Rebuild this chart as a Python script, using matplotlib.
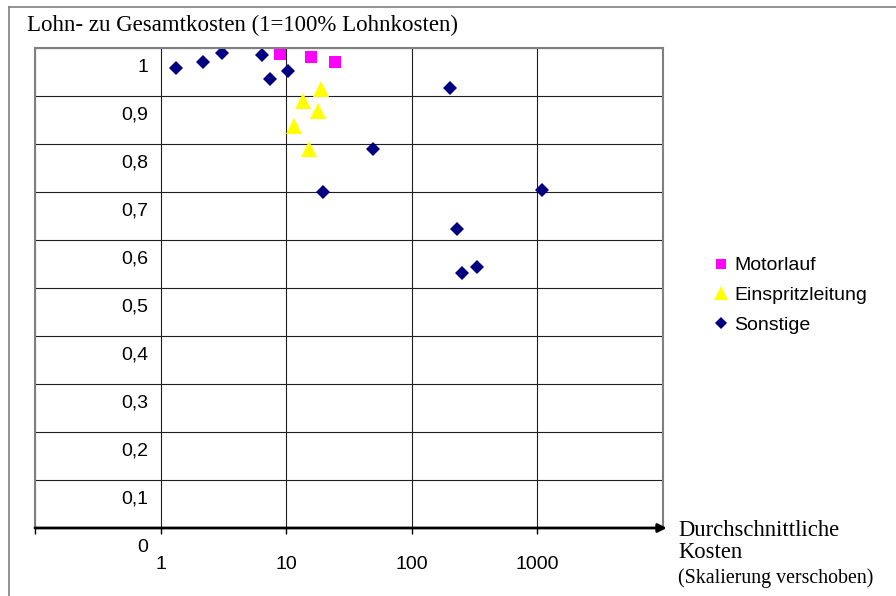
import matplotlib.pyplot as plt
from matplotlib.lines import Line2D

# Data (average costs, labour share of total costs)
motor_x = [8.97, 15.7, 24.3]
motor_y = [0.988, 0.981, 0.970]

einspritz_x = [19.0, 13.5, 17.8, 11.5, 15.3]
einspritz_y = [0.914, 0.890, 0.868, 0.838, 0.789]

sonst_x = [1.32, 2.16, 3.06, 6.37, 7.38, 10.4, 200, 48.7, 19.5, 1097, 227, 249, 328]
sonst_y = [0.958, 0.971, 0.990, 0.985, 0.935, 0.952, 0.917, 0.790, 0.700, 0.704, 0.623, 0.531, 0.544]

y_ticks = [0, 0.1, 0.2, 0.3, 0.4, 0.5, 0.6, 0.7, 0.8, 0.9, 1.0]
y_labels = ["0", "0,1", "0,2", "0,3", "0,4", "0,5", "0,6", "0,7", "0,8", "0,9", "1"]
x_ticks = [1, 10, 100, 1000]
x_labels = ["1", "10", "100", "1000"]

serif = "Liberation Serif"
sans = "Liberation Sans"
gray = "#808080"

fig = plt.figure(figsize=(8.96, 5.96), dpi=100)
ax = fig.add_axes([35/896, 1 - 528/596, 628/896, 480/596])

ax.set_xscale("log")
ax.set_xlim(0.1, 10000)
ax.set_ylim(0, 1)

ax.plot(motor_x, motor_y, "s", color="#FF00FF", ms=8, mew=0, label="Motorlauf")
ax.plot(einspritz_x, einspritz_y, "^", color="#FFFF00", ms=11, mew=0, label="Einspritzleitung")
ax.plot(sonst_x, sonst_y, "D", color="#000080", ms=7.2, mew=0, label="Sonstige")

# grid
ax.set_yticks(y_ticks)
ax.set_yticklabels([])
ax.tick_params(axis="y", length=0)
ax.set_xticks([0.1] + x_ticks)
ax.set_xticklabels([""] + x_labels, fontfamily=sans, fontsize=14)
ax.minorticks_off()
ax.tick_params(axis="x", length=4, width=1, direction="out", pad=16, color="black")
ax.grid(True, color="#202020", lw=0.8)
ax.set_axisbelow(True)

for s in ["left", "top", "right"]:
    ax.spines[s].set_color(gray)
    ax.spines[s].set_linewidth(1.5)
ax.spines["bottom"].set_visible(False)

# y labels shifted down ("Skalierung verschoben")
for v, lab in zip(y_ticks, y_labels):
    ax.text(0.18, v - 0.04, lab, transform=ax.get_yaxis_transform(),
            ha="right", va="center", fontfamily=sans, fontsize=14, clip_on=False)

# x axis with arrow
ax.annotate("", xy=(1.006, 0), xytext=(0, 0), xycoords="axes fraction",
            arrowprops=dict(arrowstyle="-|>,head_length=0.5,head_width=0.25",
                            color="black", lw=2, shrinkA=0, shrinkB=0))

fig.text(27/896, 1 - 25/596, "Lohn- zu Gesamtkosten (1=100% Lohnkosten)",
         fontfamily=serif, fontsize=16.5, va="center", ha="left")
fig.text(678/896, 1 - 530/596, "Durchschnittliche", fontfamily=serif, fontsize=16.3,
         va="center", ha="left")
fig.text(678/896, 1 - 553/596, "Kosten", fontfamily=serif, fontsize=16.3,
         va="center", ha="left")
fig.text(678/896, 1 - 578/596, "(Skalierung verschoben)", fontfamily=serif, fontsize=14.3,
         va="center", ha="left")

ax.legend(loc="upper left", bbox_to_anchor=(703/896, 1 - 247/596),
          bbox_transform=fig.transFigure, frameon=False,
          prop={"family": sans, "size": 14}, handlelength=0.8,
          handletextpad=0.3, labelspacing=0.62, borderpad=0, markerscale=0.9)

# outer frame (left and top only)
fig.add_artist(Line2D([9/896, 9/896], [0, 1 - 7/596], transform=fig.transFigure,
                      color=gray, lw=1.2))
fig.add_artist(Line2D([9/896, 1], [1 - 7/596, 1 - 7/596], transform=fig.transFigure,
                      color=gray, lw=1.2))

fig.savefig("out.png", dpi=100)
